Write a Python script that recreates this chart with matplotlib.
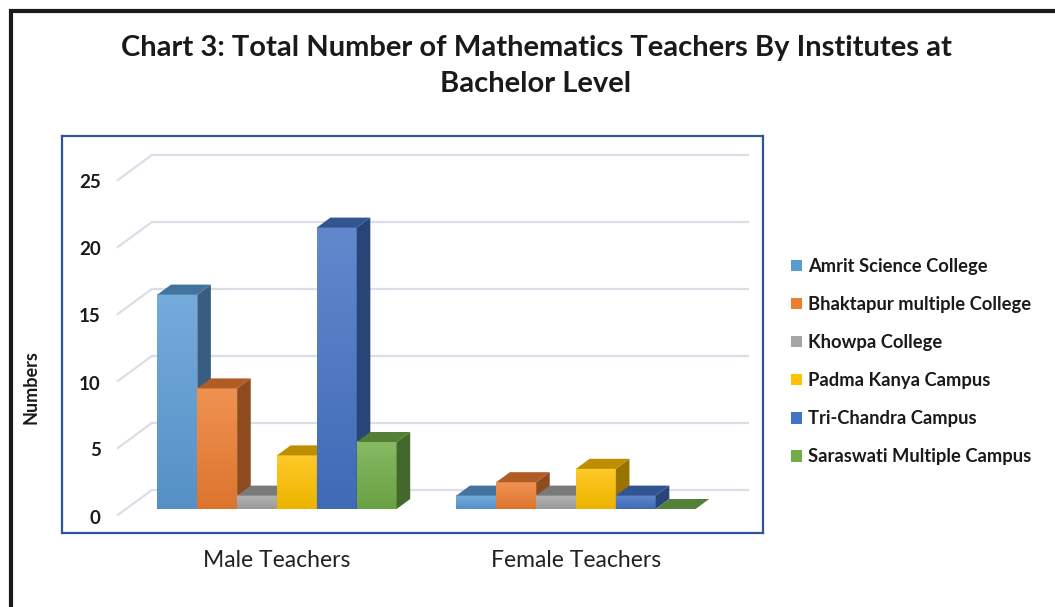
import numpy as np
import matplotlib
matplotlib.use("Agg")
import matplotlib.pyplot as plt
from matplotlib.patches import Polygon, Rectangle, Patch
from matplotlib.colors import to_rgb

# ---------------- data ----------------
categories = ["Male Teachers", "Female Teachers"]
institutes = ["Amrit Science College", "Bhaktapur multiple College", "Khowpa College",
              "Padma Kanya Campus", "Tri-Chandra Campus", "Saraswati Multiple Campus"]
male = [16, 9, 1, 4, 21, 5]
female = [1, 2, 1, 3, 1, 0]
y_ticks = [0, 5, 10, 15, 20, 25]
colors = ["#5B9BD5", "#ED7D31", "#A5A5A5", "#FFC000", "#4472C4", "#70AD47"]
title = "Chart 3: Total Number of Mathematics Teachers By Institutes at\nBachelor Level"
ylabel = "Numbers"

values = [male, female]

W, H = 1055, 607
fig = plt.figure(figsize=(W / 100, H / 100), dpi=100)
fig.patch.set_facecolor("white")

# outer frame
fig.patches.append(Rectangle((11 / W, -0.2), 2, 1 - 11 / H + 0.2, transform=fig.transFigure,
                             fill=False, edgecolor="#1a1a1a", linewidth=3, zorder=0))

ax = fig.add_axes([62 / W, 1 - 533 / H, (763 - 62) / W, (533 - 136) / H])
ax.set_facecolor("white")

PX_X = 1 / 299.0
PX_Y = 1 / 13.4
DX = 34 * PX_X   # full floor depth in x (data)
DY = 25 * PX_Y   # full floor depth in y (data)
FRONT = -0.24
BACK = 0.76
BAR_D = 0.40
XL = (126 - 277) * PX_X
XR = (722 - 277) * PX_X

grid_c = "#D9DEE7"
for t in y_ticks:
    fx, fy = XL + FRONT * DX, t + FRONT * DY
    bx, by = XL + BACK * DX, t + BACK * DY
    rx = XR + BACK * DX
    ax.plot([fx, bx, rx], [fy, by, by], color=grid_c, lw=1.6, zorder=1, solid_joinstyle="miter")
    ax.text(fx - 17 * PX_X, fy - 3 * PX_Y, str(t), ha="right", va="center", fontsize=13.5,
            fontweight="bold", family="Lato", color="#1a1a1a")


def shade(c, f):
    r = np.array(to_rgb(c))
    return tuple(np.clip(r * f, 0, 1))


def lighten(c, f):
    r = np.array(to_rgb(c))
    return tuple(r + (1 - r) * f)


n = len(institutes)
w = 0.8 / n
sx, sy = BAR_D * DX, BAR_D * DY
z = 2
for i, vals in enumerate(values):
    for j, v in enumerate(vals):
        x0 = i - 0.4 + j * w
        x1 = x0 + w
        base = colors[j]
        if v > 0:
            top_c = np.array(lighten(base, 0.16))
            bot_c = np.array(shade(base, 0.93))
            g = np.linspace(0, 1, 64)[:, None, None]
            img = bot_c[None, None, :] * (1 - g) + top_c[None, None, :] * g
            ax.imshow(img, extent=[x0, x1, 0, v], origin="lower", aspect="auto",
                      interpolation="bilinear", zorder=z)
            side = Polygon([(x1, 0), (x1 + sx, sy), (x1 + sx, v + sy), (x1, v)],
                           closed=True, facecolor=shade(base, 0.6), edgecolor="none", zorder=z)
            ax.add_patch(side)
        topf = Polygon([(x0, v), (x0 + sx, v + sy), (x1 + sx, v + sy), (x1, v)],
                       closed=True, facecolor=shade(base, 0.74), edgecolor="none", zorder=z)
        ax.add_patch(topf)
        z += 1

ax.set_xlim((62 - 277) * PX_X, (763 - 277) * PX_X)
ax.set_ylim((509 - 533) * PX_Y, (509 - 136) * PX_Y)

ax.set_xticks(range(len(categories)))
ax.set_xticklabels(categories, fontsize=16.5, family="Lato", color="#222222")
ax.tick_params(axis="x", length=0, pad=12)
ax.set_yticks([])
for s in ax.spines.values():
    s.set_color("#2F5597")
    s.set_linewidth(1.6)

ax.set_ylabel(ylabel, fontsize=13, fontweight="bold", family="Lato", color="#1a1a1a")
ax.yaxis.set_label_coords(-22 / 701, (533 - 387) / 397)

fig.text(536 / W, 1 - 66 / H, title, ha="center", va="center", fontsize=21,
         fontweight="bold", family="Lato", color="#1a1a1a", linespacing=1.5)

handles = [Patch(facecolor=c, edgecolor="none") for c in colors]
fig.legend(handles, institutes, loc="upper left", bbox_to_anchor=(791 / W, 1 - 258 / H),
           bbox_transform=fig.transFigure, frameon=False, borderpad=0, borderaxespad=0,
           prop={"family": "Lato", "weight": "bold", "size": 13.2},
           handlelength=0.58, handleheight=0.58, handletextpad=0.36, labelspacing=1.15,
           labelcolor="#1a1a1a")

fig.savefig("out.png", dpi=100)
